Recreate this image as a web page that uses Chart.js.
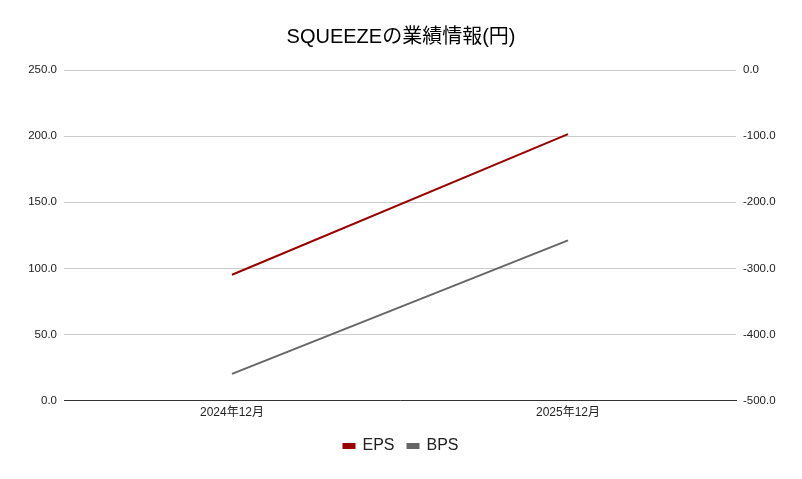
<!DOCTYPE html>
<html><head><meta charset="utf-8">
<script src="https://cdn.jsdelivr.net/npm/chart.js@4.4.1/dist/chart.umd.min.js"></script>
<style>html,body{margin:0;padding:0;background:#fff;}#wrap{width:802px;height:479px;position:relative;}</style>
</head><body><div id="wrap"><canvas id="c" width="802" height="479"></canvas></div>
<script>
const categories = ['2024年12月', '2025年12月'];
const epsValues = [95.2, 201.5];
const bpsValues = [-459.5, -257.6];
const leftTicks = [0, 50, 100, 150, 200, 250];
const rightTicks = [-500, -400, -300, -200, -100, 0];

const FONT = "'Liberation Sans', Arial, 'Noto Sans CJK JP', sans-serif";
new Chart(document.getElementById('c'), {
  type: 'line',
  data: {
    labels: categories,
    datasets: [
      { label: 'EPS', data: epsValues, borderColor: '#990000', backgroundColor: '#990000', borderWidth: 2, pointRadius: 0, yAxisID: 'y' },
      { label: 'BPS', data: bpsValues, borderColor: '#666666', backgroundColor: '#666666', borderWidth: 2, pointRadius: 0, yAxisID: 'y1' }
    ]
  },
  options: {
    responsive: false,
    animation: false,
    layout: { padding: { left: 0, right: 0, top: 1, bottom: 15 } },
    plugins: {
      title: { display: true, text: 'SQUEEZEの業績情報(円)', color: '#000', font: { family: FONT, size: 20, weight: 'normal' }, padding: { top: 24, bottom: 21 } },
      legend: { position: 'bottom', labels: { color: '#222', font: { family: FONT, size: 16 }, boxWidth: 11, boxHeight: 4, padding: 13 } },
      tooltip: { enabled: false }
    },
    scales: {
      x: {
        offset: true,
        grid: { display: false, drawTicks: false },
        border: { color: '#333', width: 1 },
        ticks: { color: '#222', font: { family: FONT, size: 12 }, padding: 5, maxRotation: 0 }
      },
      y: {
        position: 'left', min: 0, max: 250,
        afterBuildTicks: a => { a.ticks = leftTicks.map(v => ({ value: v })); },
        afterFit: a => { a.width = 64; },
        grid: { color: '#cccccc', drawTicks: false },
        border: { display: false },
        ticks: { color: '#222', font: { family: FONT, size: 11.5 }, padding: 7, callback: v => v.toFixed(1) }
      },
      y1: {
        position: 'right', min: -500, max: 0,
        afterBuildTicks: a => { a.ticks = rightTicks.map(v => ({ value: v })); },
        afterFit: a => { a.width = 66; },
        grid: { display: false, drawTicks: false },
        border: { display: false },
        ticks: { color: '#222', font: { family: FONT, size: 11.5 }, padding: 7, callback: v => v.toFixed(1) }
      }
    }
  }
});
</script></body></html>
